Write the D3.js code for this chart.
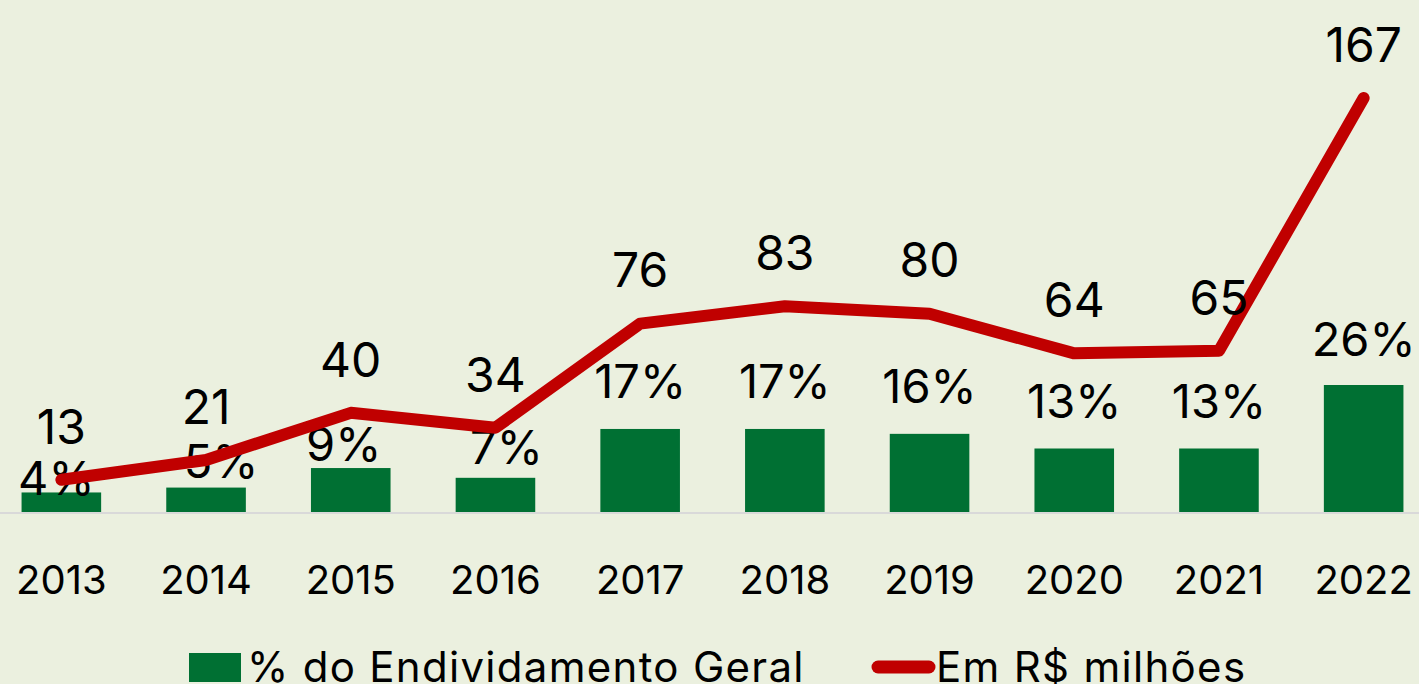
<!DOCTYPE html>
<html>
<head>
<meta charset="utf-8">
<script src="https://cdn.jsdelivr.net/npm/d3@7"></script>
<style>
  html, body { margin: 0; padding: 0; background: #EBF0DF; }
  svg { display: block; }
  text { font-family: Inter, "Open Sans", sans-serif; fill: #000; }
</style>
</head>
<body>
<svg id="chart" width="1419" height="684"></svg>
<script>
// Chart data
const years = ["2013", "2014", "2015", "2016", "2017", "2018", "2019", "2020", "2021", "2022"];
const sharePct = [4, 5, 9, 7, 17, 17, 16, 13, 13, 26];          // % do Endividamento Geral
const amountMi = [13, 21, 40, 34, 76, 83, 80, 64, 65, 167];       // Em R$ milhões
const legendLabels = ["% do Endividamento Geral", "Em R$ milhões"];

const W = 1419, H = 684;
const baseY = 512;
const svg = d3.select("#chart");

svg.append("rect").attr("width", W).attr("height", H).attr("fill", "#EBF0DF");

const x = d3.scaleBand().domain(years).range([-11, 1436]).paddingInner(0.45).paddingOuter(0.225);
const yPct = d3.scaleLinear().domain([0, 26]).range([baseY, 385]);
const yAmt = d3.scaleLinear().domain([0, 167]).range([baseY, 98]);
const cx = d => x(d) + x.bandwidth() / 2;

// baseline
svg.append("line")
  .attr("x1", 0).attr("x2", W)
  .attr("y1", baseY + 1).attr("y2", baseY + 1)
  .attr("stroke", "#D9D9D9").attr("stroke-width", 2);

// bars
svg.selectAll("rect.bar").data(years).join("rect")
  .attr("class", "bar")
  .attr("x", d => x(d))
  .attr("width", x.bandwidth())
  .attr("y", (d, i) => yPct(sharePct[i]))
  .attr("height", (d, i) => baseY - yPct(sharePct[i]))
  .attr("fill", "#007033");

// bar value labels (the first four are nudged to stay clear of the line)
const pctLift = [14, 26, 23, 30, 47, 47, 47, 47, 47, 45];
const pctShift = [-5, 15, -7, 11, 0, 0, 0, 0, 0, 0];
svg.selectAll("text.pct").data(years).join("text")
  .attr("class", "pct")
  .attr("x", (d, i) => cx(d) + pctShift[i])
  .attr("y", (d, i) => yPct(sharePct[i]) - pctLift[i])
  .attr("dy", "0.35em")
  .attr("text-anchor", "middle")
  .attr("font-size", 47)
  .text((d, i) => sharePct[i] + "%");

// line
const line = d3.line().x((d, i) => cx(years[i])).y(d => yAmt(d));
svg.append("path")
  .datum(amountMi)
  .attr("d", line)
  .attr("fill", "none")
  .attr("stroke", "#C00000")
  .attr("stroke-width", 12)
  .attr("stroke-linecap", "round")
  .attr("stroke-linejoin", "round");

// line value labels
svg.selectAll("text.amt").data(years).join("text")
  .attr("class", "amt")
  .attr("x", d => cx(d))
  .attr("y", (d, i) => yAmt(amountMi[i]) - 53)
  .attr("dy", "0.35em")
  .attr("text-anchor", "middle")
  .attr("font-size", 48)
  .text((d, i) => amountMi[i]);

// category axis
const axis = d3.axisBottom(x).tickSize(0).tickPadding(0);
const gAxis = svg.append("g").attr("transform", `translate(0,${baseY})`).call(axis);
gAxis.select(".domain").remove();
gAxis.selectAll("text")
  .attr("y", 68)
  .attr("dy", "0.35em")
  .attr("font-size", 40)
  .attr("fill", "#000");

// legend
const lg = svg.append("g");
lg.append("rect").attr("x", 189).attr("y", 653).attr("width", 52).attr("height", 29).attr("fill", "#007033");
lg.append("text").attr("x", 247).attr("y", 667).attr("dy", "0.35em")
  .attr("font-size", 42).attr("letter-spacing", 1.3).text(legendLabels[0]);
lg.append("line").attr("x1", 878).attr("x2", 929).attr("y1", 667).attr("y2", 667)
  .attr("stroke", "#C00000").attr("stroke-width", 13).attr("stroke-linecap", "round");
lg.append("text").attr("x", 936).attr("y", 667).attr("dy", "0.35em")
  .attr("font-size", 42).attr("letter-spacing", 1.3).text(legendLabels[1]);
</script>
</body>
</html>
